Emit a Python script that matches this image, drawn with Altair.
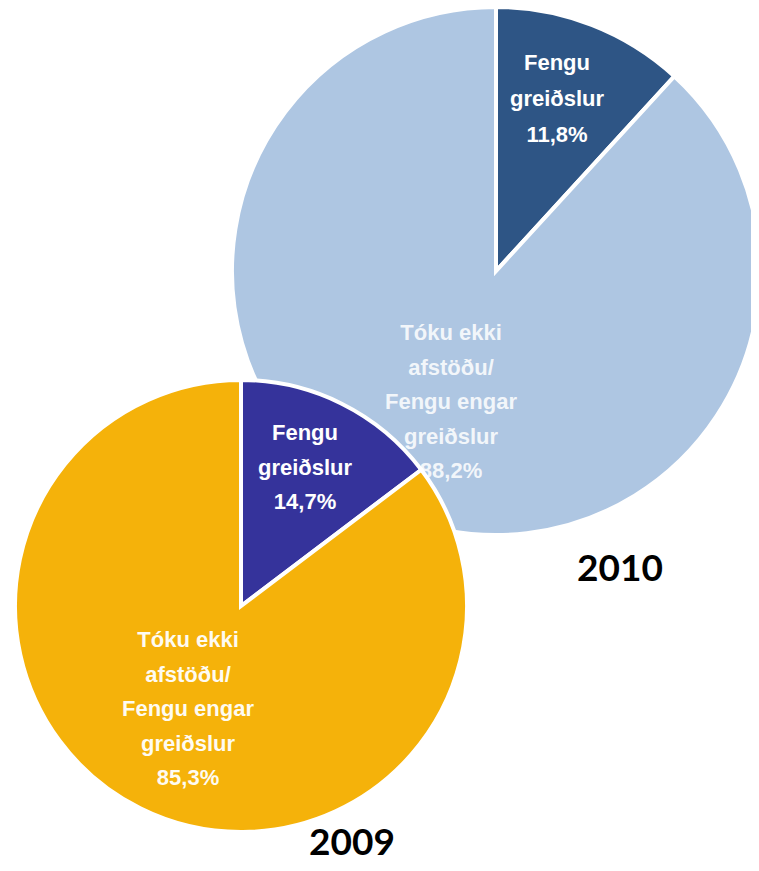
import altair as alt
import pandas as pd

# ---- data ----
categories = ["Fengu greiðslur", "Tóku ekki afstöðu/Fengu engar greiðslur"]
values_2010 = [11.8, 88.2]
values_2009 = [14.7, 85.3]
colors_2010 = ["#2e5585", "#aec6e2"]
colors_2009 = ["#35339b", "#f5b20a"]
labels_2010 = ["Fengu\ngreiðslur\n11,8%", "Tóku ekki\nafstöðu/\nFengu engar\ngreiðslur\n88,2%"]
labels_2009 = ["Fengu\ngreiðslur\n14,7%", "Tóku ekki\nafstöðu/\nFengu engar\ngreiðslur\n85,3%"]
years = ["2010", "2009"]

df10 = pd.DataFrame({"cat": categories, "value": values_2010, "color": colors_2010,
                     "order": [0, 1], "label": labels_2010})
df09 = pd.DataFrame({"cat": categories, "value": values_2009, "color": colors_2009,
                     "order": [0, 1], "label": labels_2009})

LABEL_FONT = "Liberation Sans"


def pie(df, cx, cy, r):
    return alt.Chart(df).mark_arc(stroke="white", strokeWidth=4, radius=r).encode(
        theta=alt.Theta("value:Q", stack=True),
        order=alt.Order("order:Q"),
        color=alt.Color("color:N", scale=None),
        x=alt.value(cx),
        y=alt.value(cy),
    )


def label(df, idx, x, y, lh, opacity=1.0):
    return alt.Chart(df.iloc[[idx]]).mark_text(
        font=LABEL_FONT, fontSize=22, fontWeight="bold", color="white",
        opacity=opacity, lineBreak="\n", lineHeight=lh, align="center", baseline="middle",
    ).encode(text="label:N", x=alt.value(x), y=alt.value(y))


def year(txt, x, y):
    return alt.Chart(pd.DataFrame({"t": [txt]})).mark_text(
        font="Lato", fontSize=37, fontWeight="bold", color="black",
        align="center", baseline="middle",
    ).encode(text="t:N", x=alt.value(x), y=alt.value(y))


pie10 = pie(df10, 488, 263, 264)
pie09 = pie(df09, 233, 598, 226)

chart = alt.layer(
    pie10,
    label(df10, 0, 549, 55, 36),
    label(df10, 1, 443, 325, 34.5, 0.85),
    pie09,
    label(df09, 0, 297, 425, 34.5),
    label(df09, 1, 180, 632, 34.5, 0.95),
    year(years[0], 612, 562),
    year(years[1], 344, 836),
).resolve_scale(theta="independent").properties(
    width=743, height=855, padding=0, autosize=alt.AutoSizeParams(type="none")
).configure_view(stroke=None)

chart.save("out.html", embed_options={"renderer": "svg", "actions": False})
